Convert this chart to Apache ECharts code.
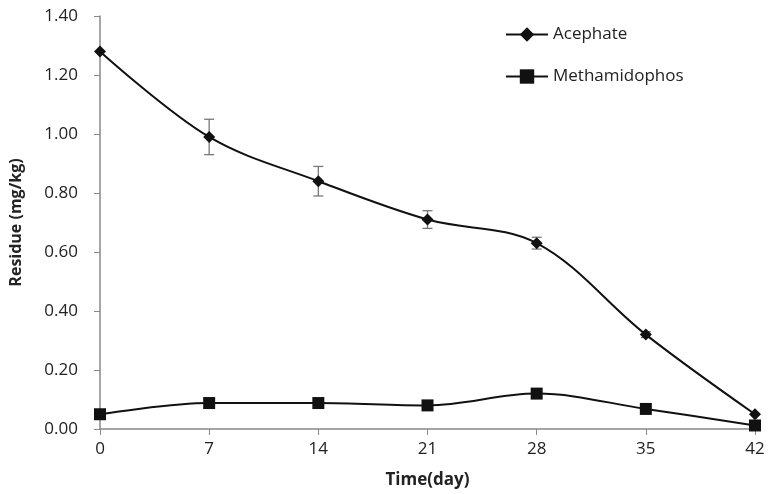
<!DOCTYPE html>
<html><head><meta charset="utf-8">
<script src="https://cdn.jsdelivr.net/npm/echarts@6/dist/echarts.min.js"></script>
<style>html,body{margin:0;padding:0;background:#fff}#c{width:768px;height:494px}</style>
</head><body><div id="c"></div>
<script>
var days = [0, 7, 14, 21, 28, 35, 42];
var acephate = [1.28, 0.99, 0.84, 0.71, 0.63, 0.32, 0.05];
var acephateErr = [0.0, 0.06, 0.05, 0.03, 0.02, 0.01, 0.0];
var methamidophos = [0.05, 0.088, 0.088, 0.08, 0.12, 0.068, 0.012];
var yTicks = ['0.00','0.20','0.40','0.60','0.80','1.00','1.20','1.40'];

var chart = echarts.init(document.getElementById('c'));
var font = '"Open Sans", "Noto Sans", sans-serif';
var errData = days.map(function(d,i){ return [d, acephate[i]-acephateErr[i], acephate[i]+acephateErr[i]]; });

chart.setOption({
  animation: false,
  grid: {left: 96, right: 13, top: 16, bottom: 65},
  legend: {
    orient: 'vertical', left: 500, top: 21, itemGap: 25, itemWidth: 42, itemHeight: 18,
    textStyle: {fontFamily: font, fontSize: 17, color: '#222'},
    data: ['Acephate', 'Methamidophos']
  },
  xAxis: {
    type: 'value', min: 0, max: 42, interval: 7,
    name: 'Time(day)', nameLocation: 'middle', nameGap: 43,
    nameTextStyle: {fontFamily: font, fontSize: 17, fontWeight: 'bold', color: '#222'},
    axisLine: {lineStyle: {color: '#888', width: 1.5}},
    axisTick: {show: true, inside: false, length: 6, lineStyle: {color: '#888'}},
    axisLabel: {fontFamily: font, fontSize: 17, color: '#222', margin: 12},
    splitLine: {show: false}
  },
  yAxis: {
    type: 'value', min: 0, max: 1.4, interval: 0.2,
    name: 'Residue (mg/kg)', nameLocation: 'middle', nameGap: 76,
    nameTextStyle: {fontFamily: font, fontSize: 16, fontWeight: 'bold', color: '#222'},
    axisLine: {show: true, lineStyle: {color: '#888', width: 1.5}},
    axisTick: {show: true, inside: false, length: 6, lineStyle: {color: '#888'}},
    axisLabel: {fontFamily: font, fontSize: 17, color: '#222', margin: 22,
      formatter: function(v){ return yTicks[Math.round(v/0.2)]; }},
    splitLine: {show: false}
  },
  series: [
    {
      name: 'Acephate', type: 'line', smooth: 0.35,
      data: days.map(function(d,i){return [d, acephate[i]];}),
      symbol: 'diamond', symbolSize: 12,
      itemStyle: {color: '#111'}, lineStyle: {color: '#111', width: 2}, z: 3
    },
    {
      name: 'Methamidophos', type: 'line', smooth: 0.35,
      data: days.map(function(d,i){return [d, methamidophos[i]];}),
      symbol: 'rect', symbolSize: 12,
      itemStyle: {color: '#111'}, lineStyle: {color: '#111', width: 2}, z: 3
    },
    {
      name: 'err', type: 'custom', z: 2,
      data: errData,
      renderItem: function(params, api){
        var x = api.value(0), lo = api.value(1), hi = api.value(2);
        if (hi - lo <= 0) return null;
        var p1 = api.coord([x, lo]), p2 = api.coord([x, hi]);
        var w = 5;
        var st = {stroke: '#777', lineWidth: 1.3};
        return {type: 'group', children: [
          {type:'line', shape:{x1:p1[0],y1:p1[1],x2:p2[0],y2:p2[1]}, style: st},
          {type:'line', shape:{x1:p1[0]-w,y1:p1[1],x2:p1[0]+w,y2:p1[1]}, style: st},
          {type:'line', shape:{x1:p2[0]-w,y1:p2[1],x2:p2[0]+w,y2:p2[1]}, style: st}
        ]};
      }
    }
  ]
});
</script></body></html>
